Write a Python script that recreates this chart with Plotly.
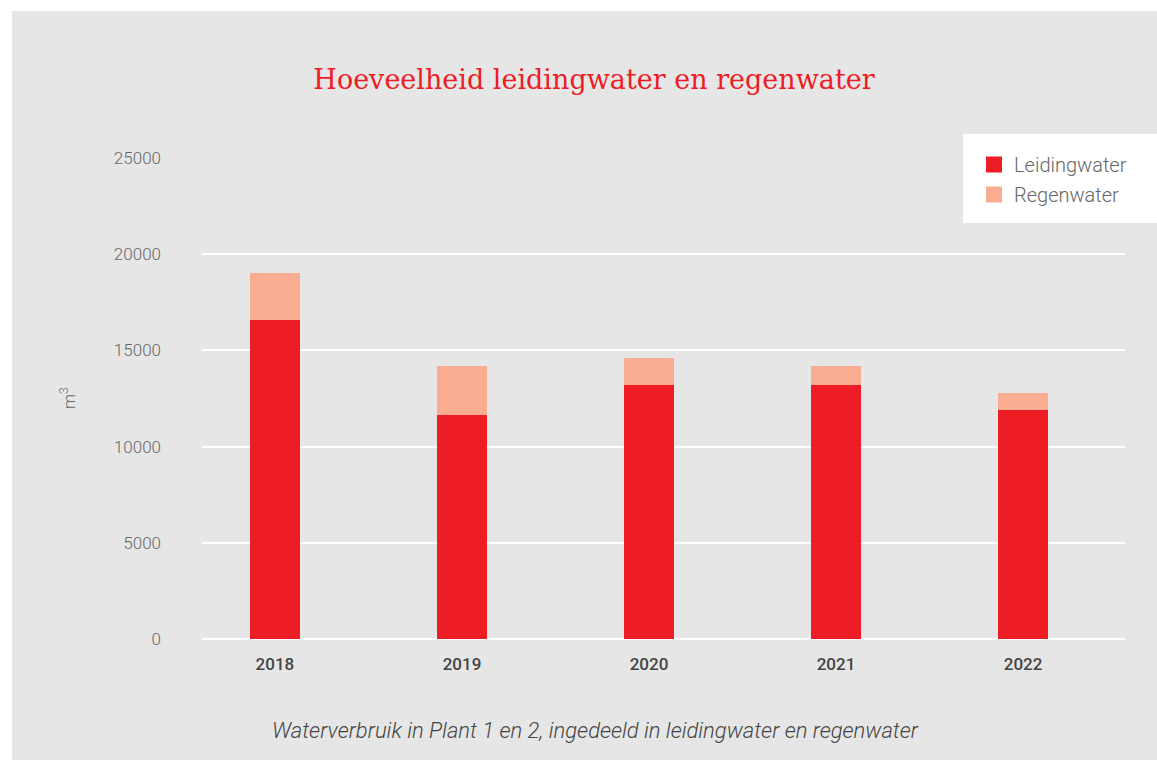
import plotly.graph_objects as go

years = ["2018", "2019", "2020", "2021", "2022"]
leidingwater = [16600, 11650, 13200, 13200, 11900]
regenwater = [2400, 2550, 1400, 1000, 900]
y_ticks = [0, 5000, 10000, 15000, 20000, 25000]
series_names = ["Leidingwater", "Regenwater"]

RED = "#ee1c25"
SALMON = "#f9ac8f"
BG = "#e6e6e6"

W, H = 1157, 760
L, R, T, B = 202, 1157 - 1125, 158, 760 - 639
pw, ph = W - L - R, H - T - B

def px_x(p):
    return (p - L) / pw

def px_y(p):
    return (H - B - p) / ph

fig = go.Figure()
fig.add_trace(go.Bar(x=years, y=leidingwater, name=series_names[0], marker_color=RED,
                     width=0.267, marker_line_width=0, showlegend=False))
fig.add_trace(go.Bar(x=years, y=regenwater, name=series_names[1], marker_color=SALMON,
                     width=0.267, marker_line_width=0, showlegend=False))
# legend entries with larger square swatches
for nm, col, grp in [(series_names[0], RED, "a"), (series_names[1], SALMON, "b")]:
    fig.add_trace(go.Scatter(x=[None], y=[None], mode="markers", name=nm, legendgroup=grp,
                             marker=dict(symbol="square", size=16, color=col)))

fig.update_layout(
    width=W, height=H,
    barmode="stack",
    margin=dict(l=L, r=R, t=T, b=B, autoexpand=False),
    paper_bgcolor="white",
    plot_bgcolor="rgba(0,0,0,0)",
    font=dict(family="Roboto", color="#666666"),
    title=dict(text="Hoeveelheid leidingwater en regenwater", xref="container",
               x=594 / W, xanchor="center", yref="container",
               y=1 - 80 / H, yanchor="middle",
               font=dict(family="DejaVu Serif", size=27, color=RED)),
    xaxis=dict(type="category", range=[-0.39, 4.545], showgrid=False, zeroline=False,
               showline=False, ticks="",
               tickfont=dict(size=17, color="#444444", family="Roboto", weight=500),
               ticklabelstandoff=13),
    yaxis=dict(range=[0, 25000], tickvals=y_ticks, ticktext=[str(v) for v in y_ticks],
               showgrid=True, gridcolor="white", gridwidth=2, zeroline=True,
               zerolinecolor="white", zerolinewidth=2, showline=False, ticks="",
               tickfont=dict(size=17, color="#666666", family="Roboto", weight=300),
               ticklabelstandoff=40),
    legend=dict(x=px_x(974), y=px_y(145), xanchor="left", yanchor="top",
                bgcolor="rgba(0,0,0,0)", traceorder="grouped", tracegroupgap=1,
                font=dict(size=20, color="#666666", family="Roboto", weight=300)),
    showlegend=True,
)

fig.add_shape(type="rect", xref="paper", yref="paper", x0=px_x(12), x1=px_x(W + 20),
              y0=px_y(H + 20), y1=px_y(11), fillcolor=BG, line_width=0, layer="below")
fig.add_shape(type="rect", xref="paper", yref="paper", x0=px_x(963), x1=px_x(W + 20),
              y0=px_y(223), y1=px_y(134), fillcolor="white", line_width=0, layer="below")

fig.add_annotation(text="m<sup>3</sup>", xref="paper", yref="paper", x=px_x(68), y=px_y(398),
                   textangle=-90, showarrow=False, xanchor="center", yanchor="middle",
                   font=dict(size=17, color="#666666", family="Roboto", weight=300))
fig.add_annotation(text="<i>Waterverbruik in Plant 1 en 2, ingedeeld in leidingwater en regenwater</i>",
                   xref="paper", yref="paper", x=px_x(595), y=px_y(730), showarrow=False,
                   xanchor="center", yanchor="middle",
                   font=dict(size=22, color="#444444", family="Roboto", weight=300))

fig.write_html("out.html", config={"displayModeBar": False},
               post_script="document.body.style.margin='0';document.body.style.overflow='hidden';")
